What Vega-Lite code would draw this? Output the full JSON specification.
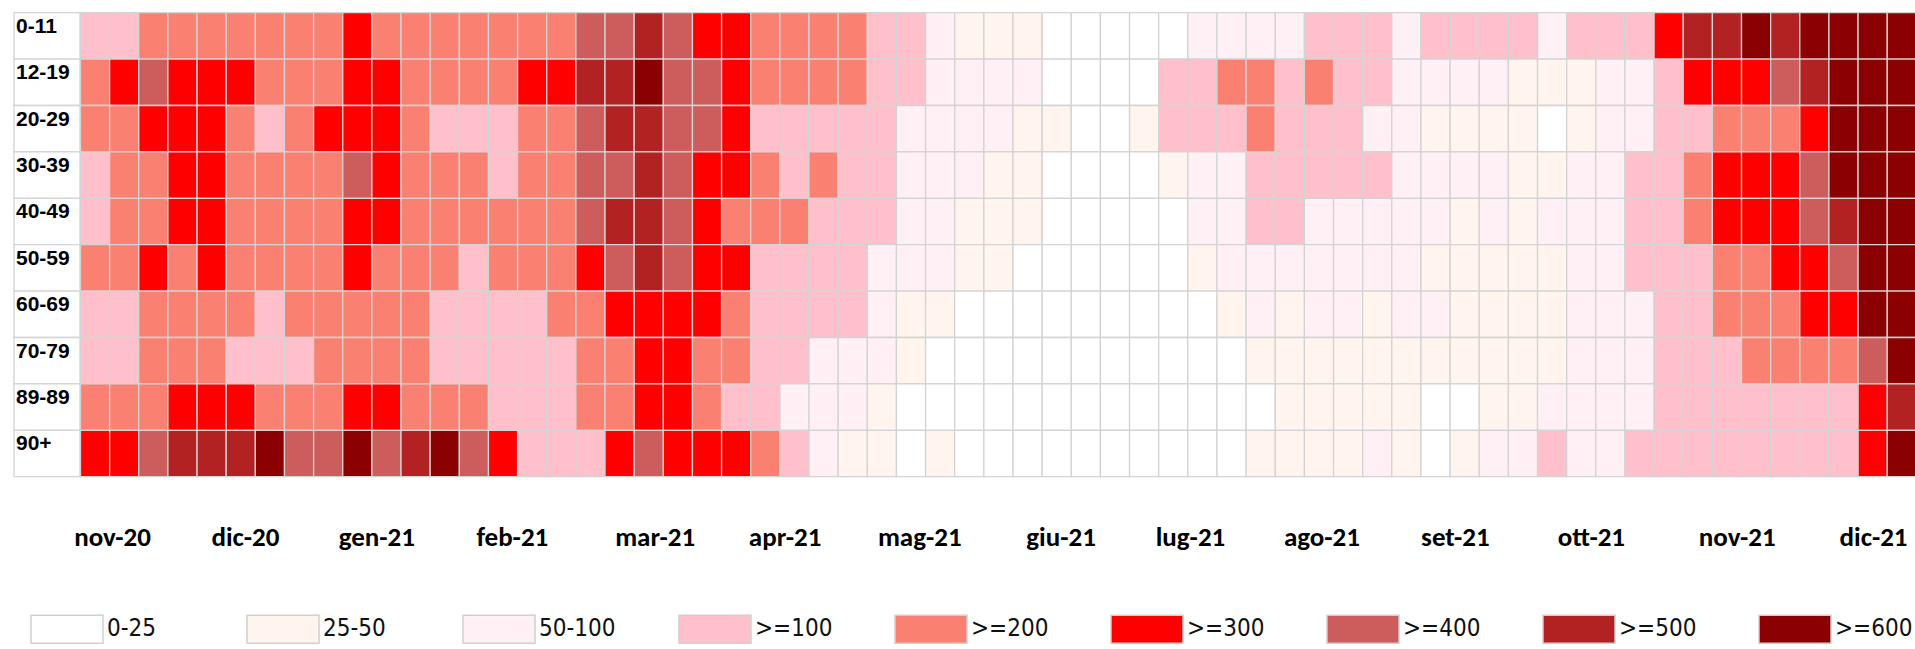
{
  "$schema": "https://vega.github.io/schema/vega-lite/v6.json",
  "width": 1915,
  "height": 464,
  "autosize": {"type": "none"},
  "padding": {"left": 0, "top": 12.7, "right": 0, "bottom": 172.3},
  "background": "white",
  "config": {"view": {"stroke": null}},
  "datasets": {
    "fasce": [
      {"eta": "0-11"}, {"eta": "12-19"}, {"eta": "20-29"}, {"eta": "30-39"}, {"eta": "40-49"},
      {"eta": "50-59"}, {"eta": "60-69"}, {"eta": "70-79"}, {"eta": "89-89"}, {"eta": "90+"}
    ],
    "celle": [
{"eta":"0-11","sett":0,"fascia":">=100"},{"eta":"0-11","sett":1,"fascia":">=100"},{"eta":"0-11","sett":2,"fascia":">=200"},{"eta":"0-11","sett":3,"fascia":">=200"},{"eta":"0-11","sett":4,"fascia":">=200"},{"eta":"0-11","sett":5,"fascia":">=200"},{"eta":"0-11","sett":6,"fascia":">=200"},{"eta":"0-11","sett":7,"fascia":">=200"},{"eta":"0-11","sett":8,"fascia":">=200"},{"eta":"0-11","sett":9,"fascia":">=300"},
{"eta":"0-11","sett":10,"fascia":">=200"},{"eta":"0-11","sett":11,"fascia":">=200"},{"eta":"0-11","sett":12,"fascia":">=200"},{"eta":"0-11","sett":13,"fascia":">=200"},{"eta":"0-11","sett":14,"fascia":">=200"},{"eta":"0-11","sett":15,"fascia":">=200"},{"eta":"0-11","sett":16,"fascia":">=200"},{"eta":"0-11","sett":17,"fascia":">=400"},{"eta":"0-11","sett":18,"fascia":">=400"},{"eta":"0-11","sett":19,"fascia":">=500"},
{"eta":"0-11","sett":20,"fascia":">=400"},{"eta":"0-11","sett":21,"fascia":">=300"},{"eta":"0-11","sett":22,"fascia":">=300"},{"eta":"0-11","sett":23,"fascia":">=200"},{"eta":"0-11","sett":24,"fascia":">=200"},{"eta":"0-11","sett":25,"fascia":">=200"},{"eta":"0-11","sett":26,"fascia":">=200"},{"eta":"0-11","sett":27,"fascia":">=100"},{"eta":"0-11","sett":28,"fascia":">=100"},{"eta":"0-11","sett":29,"fascia":"50-100"},
{"eta":"0-11","sett":30,"fascia":"25-50"},{"eta":"0-11","sett":31,"fascia":"25-50"},{"eta":"0-11","sett":32,"fascia":"25-50"},{"eta":"0-11","sett":33,"fascia":"0-25"},{"eta":"0-11","sett":34,"fascia":"0-25"},{"eta":"0-11","sett":35,"fascia":"0-25"},{"eta":"0-11","sett":36,"fascia":"0-25"},{"eta":"0-11","sett":37,"fascia":"0-25"},{"eta":"0-11","sett":38,"fascia":"50-100"},{"eta":"0-11","sett":39,"fascia":"50-100"},
{"eta":"0-11","sett":40,"fascia":"50-100"},{"eta":"0-11","sett":41,"fascia":"50-100"},{"eta":"0-11","sett":42,"fascia":">=100"},{"eta":"0-11","sett":43,"fascia":">=100"},{"eta":"0-11","sett":44,"fascia":">=100"},{"eta":"0-11","sett":45,"fascia":"50-100"},{"eta":"0-11","sett":46,"fascia":">=100"},{"eta":"0-11","sett":47,"fascia":">=100"},{"eta":"0-11","sett":48,"fascia":">=100"},{"eta":"0-11","sett":49,"fascia":">=100"},
{"eta":"0-11","sett":50,"fascia":"50-100"},{"eta":"0-11","sett":51,"fascia":">=100"},{"eta":"0-11","sett":52,"fascia":">=100"},{"eta":"0-11","sett":53,"fascia":">=100"},{"eta":"0-11","sett":54,"fascia":">=300"},{"eta":"0-11","sett":55,"fascia":">=500"},{"eta":"0-11","sett":56,"fascia":">=500"},{"eta":"0-11","sett":57,"fascia":">=600"},{"eta":"0-11","sett":58,"fascia":">=500"},{"eta":"0-11","sett":59,"fascia":">=600"},
{"eta":"0-11","sett":60,"fascia":">=600"},{"eta":"0-11","sett":61,"fascia":">=600"},{"eta":"0-11","sett":62,"fascia":">=600"},

{"eta":"12-19","sett":0,"fascia":">=200"},{"eta":"12-19","sett":1,"fascia":">=300"},{"eta":"12-19","sett":2,"fascia":">=400"},{"eta":"12-19","sett":3,"fascia":">=300"},{"eta":"12-19","sett":4,"fascia":">=300"},{"eta":"12-19","sett":5,"fascia":">=300"},{"eta":"12-19","sett":6,"fascia":">=200"},{"eta":"12-19","sett":7,"fascia":">=200"},{"eta":"12-19","sett":8,"fascia":">=200"},{"eta":"12-19","sett":9,"fascia":">=300"},
{"eta":"12-19","sett":10,"fascia":">=300"},{"eta":"12-19","sett":11,"fascia":">=200"},{"eta":"12-19","sett":12,"fascia":">=200"},{"eta":"12-19","sett":13,"fascia":">=200"},{"eta":"12-19","sett":14,"fascia":">=200"},{"eta":"12-19","sett":15,"fascia":">=300"},{"eta":"12-19","sett":16,"fascia":">=300"},{"eta":"12-19","sett":17,"fascia":">=500"},{"eta":"12-19","sett":18,"fascia":">=500"},{"eta":"12-19","sett":19,"fascia":">=600"},
{"eta":"12-19","sett":20,"fascia":">=400"},{"eta":"12-19","sett":21,"fascia":">=400"},{"eta":"12-19","sett":22,"fascia":">=300"},{"eta":"12-19","sett":23,"fascia":">=200"},{"eta":"12-19","sett":24,"fascia":">=200"},{"eta":"12-19","sett":25,"fascia":">=200"},{"eta":"12-19","sett":26,"fascia":">=200"},{"eta":"12-19","sett":27,"fascia":">=100"},{"eta":"12-19","sett":28,"fascia":">=100"},{"eta":"12-19","sett":29,"fascia":"50-100"},
{"eta":"12-19","sett":30,"fascia":"50-100"},{"eta":"12-19","sett":31,"fascia":"50-100"},{"eta":"12-19","sett":32,"fascia":"50-100"},{"eta":"12-19","sett":33,"fascia":"0-25"},{"eta":"12-19","sett":34,"fascia":"0-25"},{"eta":"12-19","sett":35,"fascia":"0-25"},{"eta":"12-19","sett":36,"fascia":"0-25"},{"eta":"12-19","sett":37,"fascia":">=100"},{"eta":"12-19","sett":38,"fascia":">=100"},{"eta":"12-19","sett":39,"fascia":">=200"},
{"eta":"12-19","sett":40,"fascia":">=200"},{"eta":"12-19","sett":41,"fascia":">=100"},{"eta":"12-19","sett":42,"fascia":">=200"},{"eta":"12-19","sett":43,"fascia":">=100"},{"eta":"12-19","sett":44,"fascia":">=100"},{"eta":"12-19","sett":45,"fascia":"50-100"},{"eta":"12-19","sett":46,"fascia":"50-100"},{"eta":"12-19","sett":47,"fascia":"50-100"},{"eta":"12-19","sett":48,"fascia":"50-100"},{"eta":"12-19","sett":49,"fascia":"25-50"},
{"eta":"12-19","sett":50,"fascia":"25-50"},{"eta":"12-19","sett":51,"fascia":"25-50"},{"eta":"12-19","sett":52,"fascia":"50-100"},{"eta":"12-19","sett":53,"fascia":"50-100"},{"eta":"12-19","sett":54,"fascia":">=100"},{"eta":"12-19","sett":55,"fascia":">=300"},{"eta":"12-19","sett":56,"fascia":">=300"},{"eta":"12-19","sett":57,"fascia":">=300"},{"eta":"12-19","sett":58,"fascia":">=400"},{"eta":"12-19","sett":59,"fascia":">=500"},
{"eta":"12-19","sett":60,"fascia":">=600"},{"eta":"12-19","sett":61,"fascia":">=600"},{"eta":"12-19","sett":62,"fascia":">=600"},

{"eta":"20-29","sett":0,"fascia":">=200"},{"eta":"20-29","sett":1,"fascia":">=200"},{"eta":"20-29","sett":2,"fascia":">=300"},{"eta":"20-29","sett":3,"fascia":">=300"},{"eta":"20-29","sett":4,"fascia":">=300"},{"eta":"20-29","sett":5,"fascia":">=200"},{"eta":"20-29","sett":6,"fascia":">=100"},{"eta":"20-29","sett":7,"fascia":">=200"},{"eta":"20-29","sett":8,"fascia":">=300"},{"eta":"20-29","sett":9,"fascia":">=300"},
{"eta":"20-29","sett":10,"fascia":">=300"},{"eta":"20-29","sett":11,"fascia":">=200"},{"eta":"20-29","sett":12,"fascia":">=100"},{"eta":"20-29","sett":13,"fascia":">=100"},{"eta":"20-29","sett":14,"fascia":">=100"},{"eta":"20-29","sett":15,"fascia":">=200"},{"eta":"20-29","sett":16,"fascia":">=200"},{"eta":"20-29","sett":17,"fascia":">=400"},{"eta":"20-29","sett":18,"fascia":">=500"},{"eta":"20-29","sett":19,"fascia":">=500"},
{"eta":"20-29","sett":20,"fascia":">=400"},{"eta":"20-29","sett":21,"fascia":">=400"},{"eta":"20-29","sett":22,"fascia":">=300"},{"eta":"20-29","sett":23,"fascia":">=100"},{"eta":"20-29","sett":24,"fascia":">=100"},{"eta":"20-29","sett":25,"fascia":">=100"},{"eta":"20-29","sett":26,"fascia":">=100"},{"eta":"20-29","sett":27,"fascia":">=100"},{"eta":"20-29","sett":28,"fascia":"50-100"},{"eta":"20-29","sett":29,"fascia":"50-100"},
{"eta":"20-29","sett":30,"fascia":"50-100"},{"eta":"20-29","sett":31,"fascia":"50-100"},{"eta":"20-29","sett":32,"fascia":"25-50"},{"eta":"20-29","sett":33,"fascia":"25-50"},{"eta":"20-29","sett":34,"fascia":"0-25"},{"eta":"20-29","sett":35,"fascia":"0-25"},{"eta":"20-29","sett":36,"fascia":"25-50"},{"eta":"20-29","sett":37,"fascia":">=100"},{"eta":"20-29","sett":38,"fascia":">=100"},{"eta":"20-29","sett":39,"fascia":">=100"},
{"eta":"20-29","sett":40,"fascia":">=200"},{"eta":"20-29","sett":41,"fascia":">=100"},{"eta":"20-29","sett":42,"fascia":">=100"},{"eta":"20-29","sett":43,"fascia":">=100"},{"eta":"20-29","sett":44,"fascia":"50-100"},{"eta":"20-29","sett":45,"fascia":"50-100"},{"eta":"20-29","sett":46,"fascia":"25-50"},{"eta":"20-29","sett":47,"fascia":"25-50"},{"eta":"20-29","sett":48,"fascia":"25-50"},{"eta":"20-29","sett":49,"fascia":"25-50"},
{"eta":"20-29","sett":50,"fascia":"0-25"},{"eta":"20-29","sett":51,"fascia":"25-50"},{"eta":"20-29","sett":52,"fascia":"50-100"},{"eta":"20-29","sett":53,"fascia":"50-100"},{"eta":"20-29","sett":54,"fascia":">=100"},{"eta":"20-29","sett":55,"fascia":">=100"},{"eta":"20-29","sett":56,"fascia":">=200"},{"eta":"20-29","sett":57,"fascia":">=200"},{"eta":"20-29","sett":58,"fascia":">=200"},{"eta":"20-29","sett":59,"fascia":">=300"},
{"eta":"20-29","sett":60,"fascia":">=600"},{"eta":"20-29","sett":61,"fascia":">=600"},{"eta":"20-29","sett":62,"fascia":">=600"},

{"eta":"30-39","sett":0,"fascia":">=100"},{"eta":"30-39","sett":1,"fascia":">=200"},{"eta":"30-39","sett":2,"fascia":">=200"},{"eta":"30-39","sett":3,"fascia":">=300"},{"eta":"30-39","sett":4,"fascia":">=300"},{"eta":"30-39","sett":5,"fascia":">=200"},{"eta":"30-39","sett":6,"fascia":">=200"},{"eta":"30-39","sett":7,"fascia":">=200"},{"eta":"30-39","sett":8,"fascia":">=200"},{"eta":"30-39","sett":9,"fascia":">=400"},
{"eta":"30-39","sett":10,"fascia":">=300"},{"eta":"30-39","sett":11,"fascia":">=200"},{"eta":"30-39","sett":12,"fascia":">=200"},{"eta":"30-39","sett":13,"fascia":">=200"},{"eta":"30-39","sett":14,"fascia":">=100"},{"eta":"30-39","sett":15,"fascia":">=200"},{"eta":"30-39","sett":16,"fascia":">=200"},{"eta":"30-39","sett":17,"fascia":">=400"},{"eta":"30-39","sett":18,"fascia":">=400"},{"eta":"30-39","sett":19,"fascia":">=500"},
{"eta":"30-39","sett":20,"fascia":">=400"},{"eta":"30-39","sett":21,"fascia":">=300"},{"eta":"30-39","sett":22,"fascia":">=300"},{"eta":"30-39","sett":23,"fascia":">=200"},{"eta":"30-39","sett":24,"fascia":">=100"},{"eta":"30-39","sett":25,"fascia":">=200"},{"eta":"30-39","sett":26,"fascia":">=100"},{"eta":"30-39","sett":27,"fascia":">=100"},{"eta":"30-39","sett":28,"fascia":"50-100"},{"eta":"30-39","sett":29,"fascia":"50-100"},
{"eta":"30-39","sett":30,"fascia":"50-100"},{"eta":"30-39","sett":31,"fascia":"25-50"},{"eta":"30-39","sett":32,"fascia":"25-50"},{"eta":"30-39","sett":33,"fascia":"0-25"},{"eta":"30-39","sett":34,"fascia":"0-25"},{"eta":"30-39","sett":35,"fascia":"0-25"},{"eta":"30-39","sett":36,"fascia":"0-25"},{"eta":"30-39","sett":37,"fascia":"25-50"},{"eta":"30-39","sett":38,"fascia":"50-100"},{"eta":"30-39","sett":39,"fascia":"50-100"},
{"eta":"30-39","sett":40,"fascia":">=100"},{"eta":"30-39","sett":41,"fascia":">=100"},{"eta":"30-39","sett":42,"fascia":">=100"},{"eta":"30-39","sett":43,"fascia":">=100"},{"eta":"30-39","sett":44,"fascia":">=100"},{"eta":"30-39","sett":45,"fascia":"50-100"},{"eta":"30-39","sett":46,"fascia":"50-100"},{"eta":"30-39","sett":47,"fascia":"50-100"},{"eta":"30-39","sett":48,"fascia":"50-100"},{"eta":"30-39","sett":49,"fascia":"25-50"},
{"eta":"30-39","sett":50,"fascia":"25-50"},{"eta":"30-39","sett":51,"fascia":"50-100"},{"eta":"30-39","sett":52,"fascia":"50-100"},{"eta":"30-39","sett":53,"fascia":">=100"},{"eta":"30-39","sett":54,"fascia":">=100"},{"eta":"30-39","sett":55,"fascia":">=200"},{"eta":"30-39","sett":56,"fascia":">=300"},{"eta":"30-39","sett":57,"fascia":">=300"},{"eta":"30-39","sett":58,"fascia":">=300"},{"eta":"30-39","sett":59,"fascia":">=400"},
{"eta":"30-39","sett":60,"fascia":">=600"},{"eta":"30-39","sett":61,"fascia":">=600"},{"eta":"30-39","sett":62,"fascia":">=600"},

{"eta":"40-49","sett":0,"fascia":">=100"},{"eta":"40-49","sett":1,"fascia":">=200"},{"eta":"40-49","sett":2,"fascia":">=200"},{"eta":"40-49","sett":3,"fascia":">=300"},{"eta":"40-49","sett":4,"fascia":">=300"},{"eta":"40-49","sett":5,"fascia":">=200"},{"eta":"40-49","sett":6,"fascia":">=200"},{"eta":"40-49","sett":7,"fascia":">=200"},{"eta":"40-49","sett":8,"fascia":">=200"},{"eta":"40-49","sett":9,"fascia":">=300"},
{"eta":"40-49","sett":10,"fascia":">=300"},{"eta":"40-49","sett":11,"fascia":">=200"},{"eta":"40-49","sett":12,"fascia":">=200"},{"eta":"40-49","sett":13,"fascia":">=200"},{"eta":"40-49","sett":14,"fascia":">=200"},{"eta":"40-49","sett":15,"fascia":">=200"},{"eta":"40-49","sett":16,"fascia":">=200"},{"eta":"40-49","sett":17,"fascia":">=400"},{"eta":"40-49","sett":18,"fascia":">=500"},{"eta":"40-49","sett":19,"fascia":">=500"},
{"eta":"40-49","sett":20,"fascia":">=400"},{"eta":"40-49","sett":21,"fascia":">=300"},{"eta":"40-49","sett":22,"fascia":">=200"},{"eta":"40-49","sett":23,"fascia":">=200"},{"eta":"40-49","sett":24,"fascia":">=200"},{"eta":"40-49","sett":25,"fascia":">=100"},{"eta":"40-49","sett":26,"fascia":">=100"},{"eta":"40-49","sett":27,"fascia":">=100"},{"eta":"40-49","sett":28,"fascia":"50-100"},{"eta":"40-49","sett":29,"fascia":"50-100"},
{"eta":"40-49","sett":30,"fascia":"25-50"},{"eta":"40-49","sett":31,"fascia":"25-50"},{"eta":"40-49","sett":32,"fascia":"25-50"},{"eta":"40-49","sett":33,"fascia":"0-25"},{"eta":"40-49","sett":34,"fascia":"0-25"},{"eta":"40-49","sett":35,"fascia":"0-25"},{"eta":"40-49","sett":36,"fascia":"0-25"},{"eta":"40-49","sett":37,"fascia":"0-25"},{"eta":"40-49","sett":38,"fascia":"50-100"},{"eta":"40-49","sett":39,"fascia":"50-100"},
{"eta":"40-49","sett":40,"fascia":">=100"},{"eta":"40-49","sett":41,"fascia":">=100"},{"eta":"40-49","sett":42,"fascia":"50-100"},{"eta":"40-49","sett":43,"fascia":"50-100"},{"eta":"40-49","sett":44,"fascia":"50-100"},{"eta":"40-49","sett":45,"fascia":"50-100"},{"eta":"40-49","sett":46,"fascia":"50-100"},{"eta":"40-49","sett":47,"fascia":"25-50"},{"eta":"40-49","sett":48,"fascia":"50-100"},{"eta":"40-49","sett":49,"fascia":"25-50"},
{"eta":"40-49","sett":50,"fascia":"50-100"},{"eta":"40-49","sett":51,"fascia":"50-100"},{"eta":"40-49","sett":52,"fascia":"50-100"},{"eta":"40-49","sett":53,"fascia":">=100"},{"eta":"40-49","sett":54,"fascia":">=100"},{"eta":"40-49","sett":55,"fascia":">=200"},{"eta":"40-49","sett":56,"fascia":">=300"},{"eta":"40-49","sett":57,"fascia":">=300"},{"eta":"40-49","sett":58,"fascia":">=300"},{"eta":"40-49","sett":59,"fascia":">=400"},
{"eta":"40-49","sett":60,"fascia":">=500"},{"eta":"40-49","sett":61,"fascia":">=600"},{"eta":"40-49","sett":62,"fascia":">=600"},

{"eta":"50-59","sett":0,"fascia":">=200"},{"eta":"50-59","sett":1,"fascia":">=200"},{"eta":"50-59","sett":2,"fascia":">=300"},{"eta":"50-59","sett":3,"fascia":">=200"},{"eta":"50-59","sett":4,"fascia":">=300"},{"eta":"50-59","sett":5,"fascia":">=200"},{"eta":"50-59","sett":6,"fascia":">=200"},{"eta":"50-59","sett":7,"fascia":">=200"},{"eta":"50-59","sett":8,"fascia":">=200"},{"eta":"50-59","sett":9,"fascia":">=300"},
{"eta":"50-59","sett":10,"fascia":">=200"},{"eta":"50-59","sett":11,"fascia":">=200"},{"eta":"50-59","sett":12,"fascia":">=200"},{"eta":"50-59","sett":13,"fascia":">=100"},{"eta":"50-59","sett":14,"fascia":">=200"},{"eta":"50-59","sett":15,"fascia":">=200"},{"eta":"50-59","sett":16,"fascia":">=200"},{"eta":"50-59","sett":17,"fascia":">=300"},{"eta":"50-59","sett":18,"fascia":">=400"},{"eta":"50-59","sett":19,"fascia":">=500"},
{"eta":"50-59","sett":20,"fascia":">=400"},{"eta":"50-59","sett":21,"fascia":">=300"},{"eta":"50-59","sett":22,"fascia":">=300"},{"eta":"50-59","sett":23,"fascia":">=100"},{"eta":"50-59","sett":24,"fascia":">=100"},{"eta":"50-59","sett":25,"fascia":">=100"},{"eta":"50-59","sett":26,"fascia":">=100"},{"eta":"50-59","sett":27,"fascia":"50-100"},{"eta":"50-59","sett":28,"fascia":"50-100"},{"eta":"50-59","sett":29,"fascia":"50-100"},
{"eta":"50-59","sett":30,"fascia":"25-50"},{"eta":"50-59","sett":31,"fascia":"25-50"},{"eta":"50-59","sett":32,"fascia":"0-25"},{"eta":"50-59","sett":33,"fascia":"0-25"},{"eta":"50-59","sett":34,"fascia":"0-25"},{"eta":"50-59","sett":35,"fascia":"0-25"},{"eta":"50-59","sett":36,"fascia":"0-25"},{"eta":"50-59","sett":37,"fascia":"0-25"},{"eta":"50-59","sett":38,"fascia":"25-50"},{"eta":"50-59","sett":39,"fascia":"50-100"},
{"eta":"50-59","sett":40,"fascia":"50-100"},{"eta":"50-59","sett":41,"fascia":"50-100"},{"eta":"50-59","sett":42,"fascia":"50-100"},{"eta":"50-59","sett":43,"fascia":"50-100"},{"eta":"50-59","sett":44,"fascia":"50-100"},{"eta":"50-59","sett":45,"fascia":"50-100"},{"eta":"50-59","sett":46,"fascia":"25-50"},{"eta":"50-59","sett":47,"fascia":"25-50"},{"eta":"50-59","sett":48,"fascia":"25-50"},{"eta":"50-59","sett":49,"fascia":"25-50"},
{"eta":"50-59","sett":50,"fascia":"25-50"},{"eta":"50-59","sett":51,"fascia":"50-100"},{"eta":"50-59","sett":52,"fascia":"50-100"},{"eta":"50-59","sett":53,"fascia":">=100"},{"eta":"50-59","sett":54,"fascia":">=100"},{"eta":"50-59","sett":55,"fascia":">=100"},{"eta":"50-59","sett":56,"fascia":">=200"},{"eta":"50-59","sett":57,"fascia":">=200"},{"eta":"50-59","sett":58,"fascia":">=300"},{"eta":"50-59","sett":59,"fascia":">=300"},
{"eta":"50-59","sett":60,"fascia":">=400"},{"eta":"50-59","sett":61,"fascia":">=600"},{"eta":"50-59","sett":62,"fascia":">=600"},

{"eta":"60-69","sett":0,"fascia":">=100"},{"eta":"60-69","sett":1,"fascia":">=100"},{"eta":"60-69","sett":2,"fascia":">=200"},{"eta":"60-69","sett":3,"fascia":">=200"},{"eta":"60-69","sett":4,"fascia":">=200"},{"eta":"60-69","sett":5,"fascia":">=200"},{"eta":"60-69","sett":6,"fascia":">=100"},{"eta":"60-69","sett":7,"fascia":">=200"},{"eta":"60-69","sett":8,"fascia":">=200"},{"eta":"60-69","sett":9,"fascia":">=200"},
{"eta":"60-69","sett":10,"fascia":">=200"},{"eta":"60-69","sett":11,"fascia":">=200"},{"eta":"60-69","sett":12,"fascia":">=100"},{"eta":"60-69","sett":13,"fascia":">=100"},{"eta":"60-69","sett":14,"fascia":">=100"},{"eta":"60-69","sett":15,"fascia":">=100"},{"eta":"60-69","sett":16,"fascia":">=200"},{"eta":"60-69","sett":17,"fascia":">=200"},{"eta":"60-69","sett":18,"fascia":">=300"},{"eta":"60-69","sett":19,"fascia":">=300"},
{"eta":"60-69","sett":20,"fascia":">=300"},{"eta":"60-69","sett":21,"fascia":">=300"},{"eta":"60-69","sett":22,"fascia":">=200"},{"eta":"60-69","sett":23,"fascia":">=100"},{"eta":"60-69","sett":24,"fascia":">=100"},{"eta":"60-69","sett":25,"fascia":">=100"},{"eta":"60-69","sett":26,"fascia":">=100"},{"eta":"60-69","sett":27,"fascia":"50-100"},{"eta":"60-69","sett":28,"fascia":"25-50"},{"eta":"60-69","sett":29,"fascia":"25-50"},
{"eta":"60-69","sett":30,"fascia":"0-25"},{"eta":"60-69","sett":31,"fascia":"0-25"},{"eta":"60-69","sett":32,"fascia":"0-25"},{"eta":"60-69","sett":33,"fascia":"0-25"},{"eta":"60-69","sett":34,"fascia":"0-25"},{"eta":"60-69","sett":35,"fascia":"0-25"},{"eta":"60-69","sett":36,"fascia":"0-25"},{"eta":"60-69","sett":37,"fascia":"0-25"},{"eta":"60-69","sett":38,"fascia":"0-25"},{"eta":"60-69","sett":39,"fascia":"25-50"},
{"eta":"60-69","sett":40,"fascia":"50-100"},{"eta":"60-69","sett":41,"fascia":"25-50"},{"eta":"60-69","sett":42,"fascia":"50-100"},{"eta":"60-69","sett":43,"fascia":"50-100"},{"eta":"60-69","sett":44,"fascia":"25-50"},{"eta":"60-69","sett":45,"fascia":"50-100"},{"eta":"60-69","sett":46,"fascia":"50-100"},{"eta":"60-69","sett":47,"fascia":"25-50"},{"eta":"60-69","sett":48,"fascia":"25-50"},{"eta":"60-69","sett":49,"fascia":"25-50"},
{"eta":"60-69","sett":50,"fascia":"25-50"},{"eta":"60-69","sett":51,"fascia":"50-100"},{"eta":"60-69","sett":52,"fascia":"50-100"},{"eta":"60-69","sett":53,"fascia":"50-100"},{"eta":"60-69","sett":54,"fascia":">=100"},{"eta":"60-69","sett":55,"fascia":">=100"},{"eta":"60-69","sett":56,"fascia":">=200"},{"eta":"60-69","sett":57,"fascia":">=200"},{"eta":"60-69","sett":58,"fascia":">=200"},{"eta":"60-69","sett":59,"fascia":">=300"},
{"eta":"60-69","sett":60,"fascia":">=300"},{"eta":"60-69","sett":61,"fascia":">=600"},{"eta":"60-69","sett":62,"fascia":">=600"},

{"eta":"70-79","sett":0,"fascia":">=100"},{"eta":"70-79","sett":1,"fascia":">=100"},{"eta":"70-79","sett":2,"fascia":">=200"},{"eta":"70-79","sett":3,"fascia":">=200"},{"eta":"70-79","sett":4,"fascia":">=200"},{"eta":"70-79","sett":5,"fascia":">=100"},{"eta":"70-79","sett":6,"fascia":">=100"},{"eta":"70-79","sett":7,"fascia":">=100"},{"eta":"70-79","sett":8,"fascia":">=200"},{"eta":"70-79","sett":9,"fascia":">=200"},
{"eta":"70-79","sett":10,"fascia":">=200"},{"eta":"70-79","sett":11,"fascia":">=200"},{"eta":"70-79","sett":12,"fascia":">=100"},{"eta":"70-79","sett":13,"fascia":">=100"},{"eta":"70-79","sett":14,"fascia":">=100"},{"eta":"70-79","sett":15,"fascia":">=100"},{"eta":"70-79","sett":16,"fascia":">=100"},{"eta":"70-79","sett":17,"fascia":">=200"},{"eta":"70-79","sett":18,"fascia":">=200"},{"eta":"70-79","sett":19,"fascia":">=300"},
{"eta":"70-79","sett":20,"fascia":">=300"},{"eta":"70-79","sett":21,"fascia":">=200"},{"eta":"70-79","sett":22,"fascia":">=200"},{"eta":"70-79","sett":23,"fascia":">=100"},{"eta":"70-79","sett":24,"fascia":">=100"},{"eta":"70-79","sett":25,"fascia":"50-100"},{"eta":"70-79","sett":26,"fascia":"50-100"},{"eta":"70-79","sett":27,"fascia":"50-100"},{"eta":"70-79","sett":28,"fascia":"25-50"},{"eta":"70-79","sett":29,"fascia":"0-25"},
{"eta":"70-79","sett":30,"fascia":"0-25"},{"eta":"70-79","sett":31,"fascia":"0-25"},{"eta":"70-79","sett":32,"fascia":"0-25"},{"eta":"70-79","sett":33,"fascia":"0-25"},{"eta":"70-79","sett":34,"fascia":"0-25"},{"eta":"70-79","sett":35,"fascia":"0-25"},{"eta":"70-79","sett":36,"fascia":"0-25"},{"eta":"70-79","sett":37,"fascia":"0-25"},{"eta":"70-79","sett":38,"fascia":"0-25"},{"eta":"70-79","sett":39,"fascia":"0-25"},
{"eta":"70-79","sett":40,"fascia":"25-50"},{"eta":"70-79","sett":41,"fascia":"25-50"},{"eta":"70-79","sett":42,"fascia":"25-50"},{"eta":"70-79","sett":43,"fascia":"25-50"},{"eta":"70-79","sett":44,"fascia":"25-50"},{"eta":"70-79","sett":45,"fascia":"25-50"},{"eta":"70-79","sett":46,"fascia":"25-50"},{"eta":"70-79","sett":47,"fascia":"25-50"},{"eta":"70-79","sett":48,"fascia":"25-50"},{"eta":"70-79","sett":49,"fascia":"25-50"},
{"eta":"70-79","sett":50,"fascia":"25-50"},{"eta":"70-79","sett":51,"fascia":"50-100"},{"eta":"70-79","sett":52,"fascia":"50-100"},{"eta":"70-79","sett":53,"fascia":"50-100"},{"eta":"70-79","sett":54,"fascia":">=100"},{"eta":"70-79","sett":55,"fascia":">=100"},{"eta":"70-79","sett":56,"fascia":">=100"},{"eta":"70-79","sett":57,"fascia":">=200"},{"eta":"70-79","sett":58,"fascia":">=200"},{"eta":"70-79","sett":59,"fascia":">=200"},
{"eta":"70-79","sett":60,"fascia":">=200"},{"eta":"70-79","sett":61,"fascia":">=400"},{"eta":"70-79","sett":62,"fascia":">=600"},

{"eta":"89-89","sett":0,"fascia":">=200"},{"eta":"89-89","sett":1,"fascia":">=200"},{"eta":"89-89","sett":2,"fascia":">=200"},{"eta":"89-89","sett":3,"fascia":">=300"},{"eta":"89-89","sett":4,"fascia":">=300"},{"eta":"89-89","sett":5,"fascia":">=300"},{"eta":"89-89","sett":6,"fascia":">=200"},{"eta":"89-89","sett":7,"fascia":">=200"},{"eta":"89-89","sett":8,"fascia":">=200"},{"eta":"89-89","sett":9,"fascia":">=300"},
{"eta":"89-89","sett":10,"fascia":">=300"},{"eta":"89-89","sett":11,"fascia":">=200"},{"eta":"89-89","sett":12,"fascia":">=200"},{"eta":"89-89","sett":13,"fascia":">=200"},{"eta":"89-89","sett":14,"fascia":">=100"},{"eta":"89-89","sett":15,"fascia":">=100"},{"eta":"89-89","sett":16,"fascia":">=100"},{"eta":"89-89","sett":17,"fascia":">=200"},{"eta":"89-89","sett":18,"fascia":">=200"},{"eta":"89-89","sett":19,"fascia":">=300"},
{"eta":"89-89","sett":20,"fascia":">=300"},{"eta":"89-89","sett":21,"fascia":">=200"},{"eta":"89-89","sett":22,"fascia":">=100"},{"eta":"89-89","sett":23,"fascia":">=100"},{"eta":"89-89","sett":24,"fascia":"50-100"},{"eta":"89-89","sett":25,"fascia":"50-100"},{"eta":"89-89","sett":26,"fascia":"50-100"},{"eta":"89-89","sett":27,"fascia":"25-50"},{"eta":"89-89","sett":28,"fascia":"0-25"},{"eta":"89-89","sett":29,"fascia":"0-25"},
{"eta":"89-89","sett":30,"fascia":"0-25"},{"eta":"89-89","sett":31,"fascia":"0-25"},{"eta":"89-89","sett":32,"fascia":"0-25"},{"eta":"89-89","sett":33,"fascia":"0-25"},{"eta":"89-89","sett":34,"fascia":"0-25"},{"eta":"89-89","sett":35,"fascia":"0-25"},{"eta":"89-89","sett":36,"fascia":"0-25"},{"eta":"89-89","sett":37,"fascia":"0-25"},{"eta":"89-89","sett":38,"fascia":"0-25"},{"eta":"89-89","sett":39,"fascia":"0-25"},
{"eta":"89-89","sett":40,"fascia":"0-25"},{"eta":"89-89","sett":41,"fascia":"25-50"},{"eta":"89-89","sett":42,"fascia":"25-50"},{"eta":"89-89","sett":43,"fascia":"25-50"},{"eta":"89-89","sett":44,"fascia":"25-50"},{"eta":"89-89","sett":45,"fascia":"25-50"},{"eta":"89-89","sett":46,"fascia":"0-25"},{"eta":"89-89","sett":47,"fascia":"0-25"},{"eta":"89-89","sett":48,"fascia":"25-50"},{"eta":"89-89","sett":49,"fascia":"25-50"},
{"eta":"89-89","sett":50,"fascia":"50-100"},{"eta":"89-89","sett":51,"fascia":"50-100"},{"eta":"89-89","sett":52,"fascia":"50-100"},{"eta":"89-89","sett":53,"fascia":"50-100"},{"eta":"89-89","sett":54,"fascia":">=100"},{"eta":"89-89","sett":55,"fascia":">=100"},{"eta":"89-89","sett":56,"fascia":">=100"},{"eta":"89-89","sett":57,"fascia":">=100"},{"eta":"89-89","sett":58,"fascia":">=100"},{"eta":"89-89","sett":59,"fascia":">=100"},
{"eta":"89-89","sett":60,"fascia":">=100"},{"eta":"89-89","sett":61,"fascia":">=300"},{"eta":"89-89","sett":62,"fascia":">=500"},

{"eta":"90+","sett":0,"fascia":">=300"},{"eta":"90+","sett":1,"fascia":">=300"},{"eta":"90+","sett":2,"fascia":">=400"},{"eta":"90+","sett":3,"fascia":">=500"},{"eta":"90+","sett":4,"fascia":">=500"},{"eta":"90+","sett":5,"fascia":">=500"},{"eta":"90+","sett":6,"fascia":">=600"},{"eta":"90+","sett":7,"fascia":">=400"},{"eta":"90+","sett":8,"fascia":">=400"},{"eta":"90+","sett":9,"fascia":">=600"},
{"eta":"90+","sett":10,"fascia":">=400"},{"eta":"90+","sett":11,"fascia":">=500"},{"eta":"90+","sett":12,"fascia":">=600"},{"eta":"90+","sett":13,"fascia":">=400"},{"eta":"90+","sett":14,"fascia":">=300"},{"eta":"90+","sett":15,"fascia":">=100"},{"eta":"90+","sett":16,"fascia":">=100"},{"eta":"90+","sett":17,"fascia":">=100"},{"eta":"90+","sett":18,"fascia":">=300"},{"eta":"90+","sett":19,"fascia":">=400"},
{"eta":"90+","sett":20,"fascia":">=300"},{"eta":"90+","sett":21,"fascia":">=300"},{"eta":"90+","sett":22,"fascia":">=300"},{"eta":"90+","sett":23,"fascia":">=200"},{"eta":"90+","sett":24,"fascia":">=100"},{"eta":"90+","sett":25,"fascia":"50-100"},{"eta":"90+","sett":26,"fascia":"25-50"},{"eta":"90+","sett":27,"fascia":"25-50"},{"eta":"90+","sett":28,"fascia":"0-25"},{"eta":"90+","sett":29,"fascia":"25-50"},
{"eta":"90+","sett":30,"fascia":"0-25"},{"eta":"90+","sett":31,"fascia":"0-25"},{"eta":"90+","sett":32,"fascia":"0-25"},{"eta":"90+","sett":33,"fascia":"0-25"},{"eta":"90+","sett":34,"fascia":"0-25"},{"eta":"90+","sett":35,"fascia":"0-25"},{"eta":"90+","sett":36,"fascia":"0-25"},{"eta":"90+","sett":37,"fascia":"0-25"},{"eta":"90+","sett":38,"fascia":"0-25"},{"eta":"90+","sett":39,"fascia":"0-25"},
{"eta":"90+","sett":40,"fascia":"25-50"},{"eta":"90+","sett":41,"fascia":"25-50"},{"eta":"90+","sett":42,"fascia":"25-50"},{"eta":"90+","sett":43,"fascia":"25-50"},{"eta":"90+","sett":44,"fascia":"50-100"},{"eta":"90+","sett":45,"fascia":"25-50"},{"eta":"90+","sett":46,"fascia":"0-25"},{"eta":"90+","sett":47,"fascia":"25-50"},{"eta":"90+","sett":48,"fascia":"50-100"},{"eta":"90+","sett":49,"fascia":"50-100"},
{"eta":"90+","sett":50,"fascia":">=100"},{"eta":"90+","sett":51,"fascia":"50-100"},{"eta":"90+","sett":52,"fascia":"50-100"},{"eta":"90+","sett":53,"fascia":">=100"},{"eta":"90+","sett":54,"fascia":">=100"},{"eta":"90+","sett":55,"fascia":">=100"},{"eta":"90+","sett":56,"fascia":">=100"},{"eta":"90+","sett":57,"fascia":">=100"},{"eta":"90+","sett":58,"fascia":">=100"},{"eta":"90+","sett":59,"fascia":">=100"},
{"eta":"90+","sett":60,"fascia":">=100"},{"eta":"90+","sett":61,"fascia":">=300"},{"eta":"90+","sett":62,"fascia":">=600"}
    ]
  },
  "layer": [
    {
      "data": {"name": "celle"},
      "mark": {"type": "rect", "stroke": "#d3d3d3", "strokeWidth": 1.3},
      "encoding": {
        "x": {
          "field": "sett", "type": "quantitative",
          "bin": {"step": 1, "extent": [0, 63], "nice": false},
          "scale": {"domain": [-2.745, 62.97], "nice": false, "zero": false},
          "axis": {
            "title": null,
            "values": [1.1, 5.66, 10.17, 14.82, 19.72, 24.18, 28.8, 33.65, 38.09, 42.6, 47.18, 51.85, 56.85, 61.53],
            "labelExpr": "['nov-20','dic-20','gen-21','feb-21','mar-21','apr-21','mag-21','giu-21','lug-21','ago-21','set-21','ott-21','nov-21','dic-21'][indexof([1.1, 5.66, 10.17, 14.82, 19.72, 24.18, 28.8, 33.65, 38.09, 42.6, 47.18, 51.85, 56.85, 61.53], datum.value)]",
            "domain": false, "ticks": false, "tickSize": 0, "grid": false,
            "labelFont": "Carlito, Lato, sans-serif", "labelFontWeight": 900, "labelFontSize": 27,
            "labelColor": "#000000", "labelBaseline": "alphabetic", "labelPadding": 69,
            "labelOverlap": false, "labelFlush": false, "labelAlign": "center"
          }
        },
        "y": {
          "field": "eta", "type": "nominal",
          "scale": {"domain": ["0-11","12-19","20-29","30-39","40-49","50-59","60-69","70-79","89-89","90+"], "paddingInner": 0, "paddingOuter": 0},
          "axis": null
        },
        "color": {
          "field": "fascia", "type": "nominal",
          "scale": {
            "domain": ["0-25","25-50","50-100",">=100",">=200",">=300",">=400",">=500",">=600"],
            "range": ["#FFFFFF","#FFF5EE","#FFF0F5","#FFC0CB","#FA8072","#FF0000","#CD5C5C","#B22222","#8B0000"]
          },
          "legend": {
            "title": null, "orient": "none", "legendX": 30, "legendY": 579,
            "direction": "horizontal", "columns": 9, "gridAlign": "all", "columnPadding": 59,
            "symbolType": "M-1,-0.389L1,-0.389L1,0.389L-1,0.389Z", "symbolSize": 5184,
            "symbolStrokeColor": "#d0d0d0", "symbolStrokeWidth": 1.5,
            "labelFont": "Liberation Sans Narrow, DejaVu Sans Condensed, Liberation Sans, sans-serif",
            "labelFontSize": 24, "labelColor": "#111111", "labelOffset": 3
          }
        }
      }
    },
    {
      "data": {"name": "fasce"},
      "mark": {"type": "rect", "fill": "#FFFFFF", "stroke": "#d3d3d3", "strokeWidth": 1.3},
      "encoding": {
        "x": {"datum": -2.265, "type": "quantitative"},
        "x2": {"datum": 0},
        "y": {"field": "eta", "type": "nominal"}
      }
    },
    {
      "data": {"name": "fasce"},
      "mark": {"type": "text", "align": "left", "baseline": "top", "dx": 2, "dy": 3,
               "font": "Liberation Sans, Arial, sans-serif", "fontWeight": "bold", "fontSize": 21, "color": "#000000"},
      "encoding": {
        "x": {"datum": -2.265, "type": "quantitative"},
        "y": {"field": "eta", "type": "nominal", "bandPosition": 0},
        "text": {"field": "eta"}
      }
    }
  ]
}
